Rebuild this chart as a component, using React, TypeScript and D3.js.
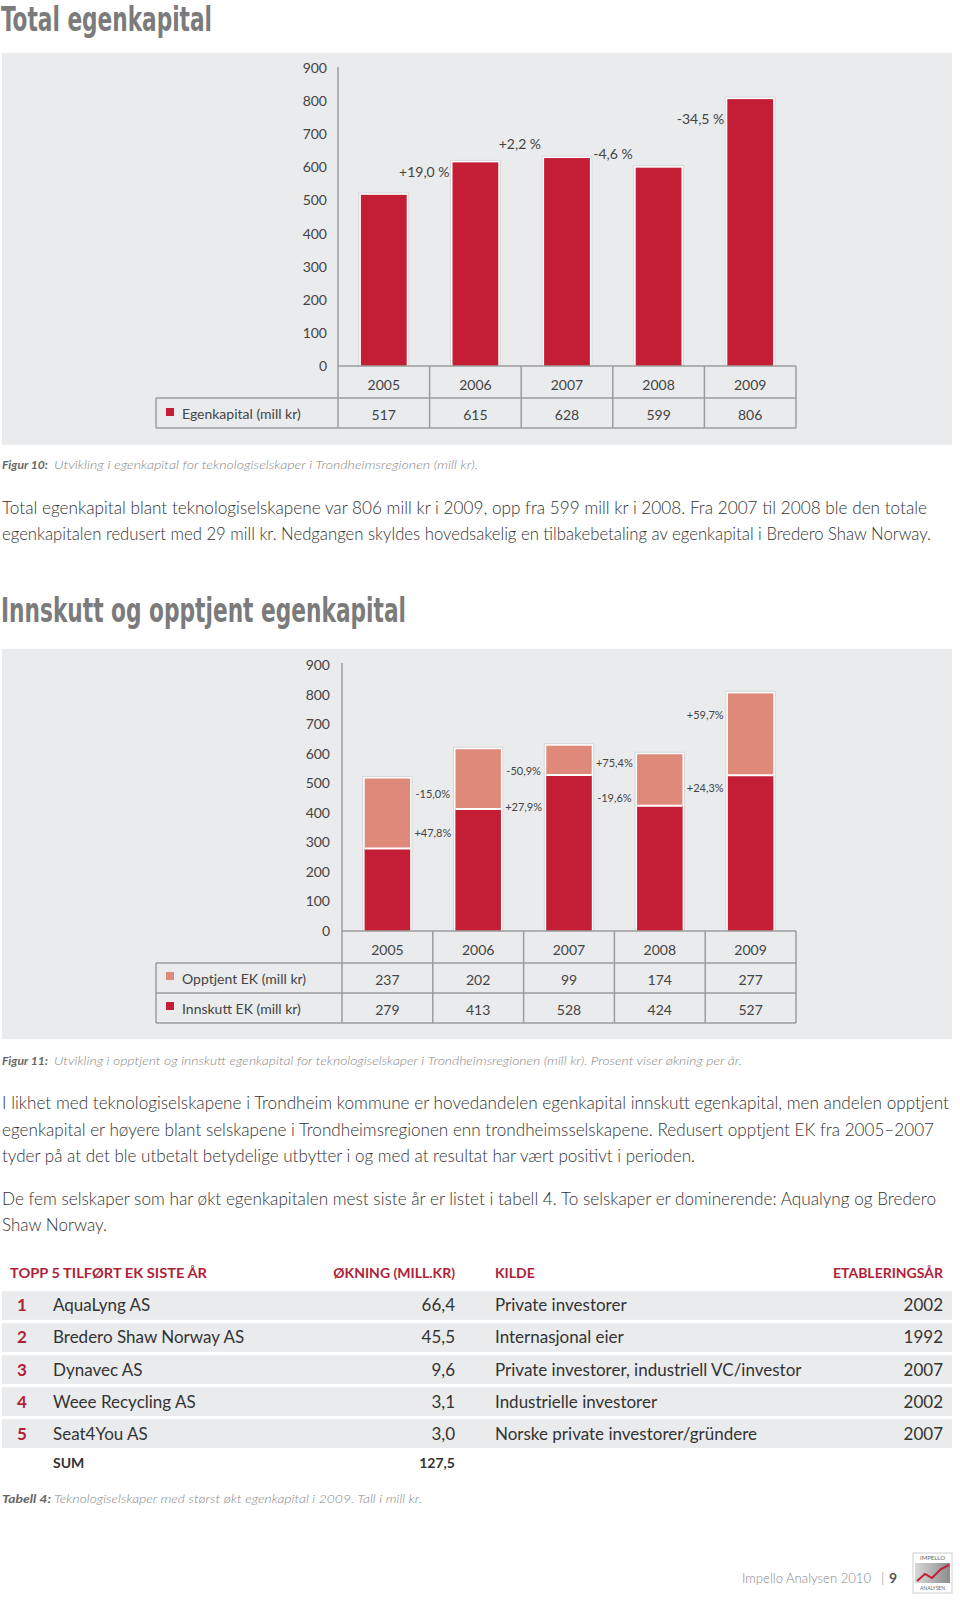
import React from "react";
import * as d3 from "d3";

// ---------- DATA ----------
const years = ["2005", "2006", "2007", "2008", "2009"];
const egenkapital = [517, 615, 628, 599, 806];
const egenkapitalChange = ["+19,0 %", "+2,2 %", "-4,6 %", "-34,5 %"];
const egenkapitalChangeAt = [586, 670, 640, 746];

const opptjent = [237, 202, 99, 174, 277];
const innskutt = [279, 413, 528, 424, 527];
const opptjentChange = ["-15,0%", "-50,9%", "+75,4%", "+59,7%"];
const opptjentChangeAt = [464, 542, 569, 732];
const innskuttChange = ["+47,8%", "+27,9%", "-19,6%", "+24,3%"];
const innskuttChangeAt = [332, 420, 451, 485];

const yTicks = [0, 100, 200, 300, 400, 500, 600, 700, 800, 900];

const topRanks = ["1", "2", "3", "4", "5"];
const topCompanies = ["AquaLyng AS", "Bredero Shaw Norway AS", "Dynavec AS", "Weee Recycling AS", "Seat4You AS"];
const topIncrease = ["66,4", "45,5", "9,6", "3,1", "3,0"];
const topSource = [
  "Private investorer",
  "Internasjonal eier",
  "Private investorer, industriell VC/investor",
  "Industrielle investorer",
  "Norske private investorer/gründere",
];
const topYear = ["2002", "1992", "2007", "2002", "2007"];
const topHeaders = ["TOPP 5 TILFØRT EK SISTE ÅR", "ØKNING (MILL.KR)", "KILDE", "ETABLERINGSÅR"];
const sumLabel = "SUM";
const sumValue = "127,5";

// ---------- STYLE ----------
const RED = "#c41e36";
const SALMON = "#df897b";
const PANEL = "#eaebed";
const GRID = "#9c9c9c";
const TXT = "#444";
const FONT = "Lato, 'Open Sans', sans-serif";
const HEAD = "'Liberation Sans Narrow', 'DejaVu Sans Condensed', 'Roboto Condensed', sans-serif";

const Para = ({ x, y, w, children, size = 17, fill = "#333", italic = false, bold = false }: any) => (
  <text
    x={x}
    y={y}
    fontFamily={FONT}
    fontSize={size}
    fill={fill}
    fontStyle={italic ? "italic" : "normal"}
    fontWeight={bold ? 700 : 300}
    textLength={w}
    lengthAdjust="spacingAndGlyphs"
  >
    {children}
  </text>
);

function Bar({ x, y, w, h, fill }: any) {
  return (
    <g>
      <rect x={x - 2.5} y={y - 2.5} width={w + 5} height={h + 2.5} fill="#c9cacc" opacity={0.6} />
      <rect x={x - 1.5} y={y - 1.5} width={w + 3} height={h + 1.5} fill="#fff" />
      <rect x={x} y={y} width={w} height={h} fill={fill} />
    </g>
  );
}

function Chart1() {
  const x = d3.scaleBand<string>().domain(years).range([338, 796]).paddingInner(0.5).paddingOuter(0.25);
  const y = d3.scaleLinear().domain([0, 900]).range([366, 68]);
  const step = x.step();
  const r0 = 338;
  const rowTop = y(0);
  const row1 = rowTop + 32;
  const row2 = row1 + 30;
  return (
    <g>
      <rect x={2} y={53} width={950} height={392} fill={PANEL} />
      {yTicks.map((t) => (
        <text key={t} x={327} y={y(t) + 5} textAnchor="end" fontFamily={FONT} fontSize={14} fill={TXT}>
          {t}
        </text>
      ))}
      {years.map((yr, i) => (
        <Bar key={yr} x={x(yr)!} y={y(egenkapital[i])} w={x.bandwidth()} h={y(0) - y(egenkapital[i])} fill={RED} />
      ))}
      {egenkapitalChange.map((c, i) => (
        <text
          key={c}
          x={x(years[i + 1])! - 3}
          y={y(egenkapitalChangeAt[i]) + 5}
          textAnchor="end"
          fontFamily={FONT}
          fontSize={14}
          fill={TXT}
        >
          {c}
        </text>
      ))}
      <line x1={r0} x2={r0} y1={y(900) - 1} y2={row2} stroke={GRID} strokeWidth={1.5} />
      <line x1={r0} x2={796} y1={rowTop} y2={rowTop} stroke={GRID} strokeWidth={1.5} />
      <line x1={156} x2={796} y1={row1} y2={row1} stroke={GRID} strokeWidth={1.5} />
      <line x1={156} x2={796} y1={row2} y2={row2} stroke={GRID} strokeWidth={1.5} />
      <line x1={156} x2={156} y1={row1} y2={row2} stroke={GRID} strokeWidth={1.5} />
      {years.map((yr, i) => (
        <line key={"v" + yr} x1={r0 + (i + 1) * step} x2={r0 + (i + 1) * step} y1={rowTop} y2={row2} stroke={GRID} strokeWidth={1.5} />
      ))}
      {years.map((yr, i) => (
        <g key={"t" + yr}>
          <text x={r0 + (i + 0.5) * step} y={(rowTop + row1) / 2 + 8} textAnchor="middle" fontFamily={FONT} fontSize={14} fill={TXT}>
            {yr}
          </text>
          <text x={r0 + (i + 0.5) * step} y={(row1 + row2) / 2 + 7} textAnchor="middle" fontFamily={FONT} fontSize={14} fill={TXT}>
            {egenkapital[i]}
          </text>
        </g>
      ))}
      <rect x={166} y={(row1 + row2) / 2 - 5} width={8} height={8} fill={RED} />
      <text x={182} y={(row1 + row2) / 2 + 6} fontFamily={FONT} fontSize={14} fill={TXT}>
        Egenkapital (mill kr)
      </text>
    </g>
  );
}

function Chart2() {
  const x = d3.scaleBand<string>().domain(years).range([342, 796]).paddingInner(0.5).paddingOuter(0.25);
  const y = d3.scaleLinear().domain([0, 900]).range([931, 665]);
  const step = x.step();
  const r0 = 342;
  const rowTop = y(0);
  const row1 = rowTop + 32;
  const row2 = row1 + 30;
  const row3 = row2 + 30;
  const stacked = years.map((yr, i) => ({ yr, a: innskutt[i], b: opptjent[i] }));
  return (
    <g>
      <rect x={2} y={649} width={950} height={390} fill={PANEL} />
      {yTicks.map((t) => (
        <text key={t} x={330} y={y(t) + 5} textAnchor="end" fontFamily={FONT} fontSize={14} fill={TXT}>
          {t}
        </text>
      ))}
      {stacked.map((d) => {
        const bx = x(d.yr)!;
        const w = x.bandwidth();
        const top = y(d.a + d.b);
        const mid = y(d.a);
        return (
          <g key={d.yr}>
            <Bar x={bx} y={top} w={w} h={y(0) - top} fill={SALMON} />
            <rect x={bx} y={mid} width={w} height={y(0) - mid} fill={RED} />
            <line x1={bx} x2={bx + w} y1={mid} y2={mid} stroke="#fff" strokeWidth={2} />
          </g>
        );
      })}
      {opptjentChange.map((c, i) => (
        <text key={c} x={r0 + (i + 1) * step} y={y(opptjentChangeAt[i]) + 4} textAnchor="middle" fontFamily={FONT} fontSize={11} fill={TXT}>
          {c}
        </text>
      ))}
      {innskuttChange.map((c, i) => (
        <text key={c} x={r0 + (i + 1) * step} y={y(innskuttChangeAt[i]) + 4} textAnchor="middle" fontFamily={FONT} fontSize={11} fill={TXT}>
          {c}
        </text>
      ))}
      <line x1={r0} x2={r0} y1={y(900) - 2} y2={row3} stroke={GRID} strokeWidth={1.5} />
      <line x1={r0} x2={796} y1={rowTop} y2={rowTop} stroke={GRID} strokeWidth={1.5} />
      {[row1, row2, row3].map((r) => (
        <line key={r} x1={156} x2={796} y1={r} y2={r} stroke={GRID} strokeWidth={1.5} />
      ))}
      <line x1={156} x2={156} y1={row1} y2={row3} stroke={GRID} strokeWidth={1.5} />
      {years.map((yr, i) => (
        <line key={"v" + yr} x1={r0 + (i + 1) * step} x2={r0 + (i + 1) * step} y1={rowTop} y2={row3} stroke={GRID} strokeWidth={1.5} />
      ))}
      {years.map((yr, i) => (
        <g key={"t" + yr}>
          <text x={r0 + (i + 0.5) * step} y={(rowTop + row1) / 2 + 8} textAnchor="middle" fontFamily={FONT} fontSize={14} fill={TXT}>
            {yr}
          </text>
          <text x={r0 + (i + 0.5) * step} y={(row1 + row2) / 2 + 7} textAnchor="middle" fontFamily={FONT} fontSize={14} fill={TXT}>
            {opptjent[i]}
          </text>
          <text x={r0 + (i + 0.5) * step} y={(row2 + row3) / 2 + 7} textAnchor="middle" fontFamily={FONT} fontSize={14} fill={TXT}>
            {innskutt[i]}
          </text>
        </g>
      ))}
      <rect x={166} y={(row1 + row2) / 2 - 6} width={8} height={8} fill={SALMON} />
      <text x={182} y={(row1 + row2) / 2 + 6} fontFamily={FONT} fontSize={14} fill={TXT}>
        Opptjent EK (mill kr)
      </text>
      <rect x={166} y={(row2 + row3) / 2 - 6} width={8} height={8} fill={RED} />
      <text x={182} y={(row2 + row3) / 2 + 6} fontFamily={FONT} fontSize={14} fill={TXT}>
        Innskutt EK (mill kr)
      </text>
    </g>
  );
}

function TopTable() {
  const rows = d3.scaleBand<string>().domain(topRanks).range([1291, 1448]).paddingInner(0.1);
  const hy = 1278;
  return (
    <g>
      <g fontFamily={FONT} fontWeight={700} fontSize={14} fill="#b01f38">
        <text x={10} y={hy} textLength={197} lengthAdjust="spacingAndGlyphs">{topHeaders[0]}</text>
        <text x={455} y={hy} textAnchor="end">{topHeaders[1]}</text>
        <text x={495} y={hy}>{topHeaders[2]}</text>
        <text x={943} y={hy} textAnchor="end">{topHeaders[3]}</text>
      </g>
      {topRanks.map((r, i) => {
        const ry = rows(r)!;
        const cy = ry + rows.bandwidth() / 2 + 6;
        return (
          <g key={r}>
            <rect x={2} y={ry} width={950} height={rows.bandwidth()} fill={PANEL} />
            <text x={22} y={cy} textAnchor="middle" fontFamily={FONT} fontWeight={700} fontSize={17} fill="#b01f38">
              {r}
            </text>
            <text x={53} y={cy} fontFamily={FONT} fontSize={17} fill="#333">
              {topCompanies[i]}
            </text>
            <text x={455} y={cy} textAnchor="end" fontFamily={FONT} fontSize={17} fill="#333">
              {topIncrease[i]}
            </text>
            <text x={495} y={cy} fontFamily={FONT} fontSize={17} fill="#333">
              {topSource[i]}
            </text>
            <text x={943} y={cy} textAnchor="end" fontFamily={FONT} fontSize={17} fill="#333">
              {topYear[i]}
            </text>
          </g>
        );
      })}
      <text x={53} y={1468} fontFamily={FONT} fontWeight={700} fontSize={14} fill="#333">
        {sumLabel}
      </text>
      <text x={455} y={1468} textAnchor="end" fontFamily={FONT} fontWeight={700} fontSize={14} fill="#333">
        {sumValue}
      </text>
    </g>
  );
}

function Logo() {
  const pts: [number, number][] = [
    [917, 1581],
    [925, 1574],
    [932, 1578],
    [941, 1569],
    [949, 1565],
  ];
  const line = d3.line();
  return (
    <g>
      <defs>
        <linearGradient id="lg" x1="0" x2="1" y1="0" y2="0">
          <stop offset="0" stopColor="#d8d8d8" />
          <stop offset="1" stopColor="#8c8c8c" />
        </linearGradient>
      </defs>
      <rect x={913} y={1553} width={39} height={40} fill="#fff" stroke="#d0d0d0" />
      <rect x={915} y={1563} width={35} height={20} fill="url(#lg)" />
      <text x={932.5} y={1560} textAnchor="middle" fontFamily={FONT} fontSize={6} fill="#666">
        IMPELLO
      </text>
      <path d={line(pts)!} fill="none" stroke="#c41e36" strokeWidth={2} />
      <text x={932.5} y={1590} textAnchor="middle" fontFamily={FONT} fontSize={5} fill="#666">
        ANALYSEN
      </text>
    </g>
  );
}

export default function App() {
  return (
    <svg
      width={960}
      height={1602}
      viewBox="0 0 960 1602"
      style={{ position: "absolute", left: 0, top: 0, background: "#fff" }}
    >
      <rect x={0} y={0} width={960} height={1602} fill="#fff" />
      <text x={1} y={31} fontFamily={HEAD} fontWeight={700} fontSize={33} fill="#7b7b7b" textLength={211} lengthAdjust="spacingAndGlyphs">
        Total egenkapital
      </text>
      <Chart1 />
      <Para x={2} y={469} w={46} size={12} italic bold fill="#666">Figur 10:</Para>
      <Para x={54} y={469} w={424} size={12} italic fill="#888">
        Utvikling i egenkapital for teknologiselskaper i Trondheimsregionen (mill kr).
      </Para>
      <Para x={2} y={514} w={925}>
        Total egenkapital blant teknologiselskapene var 806 mill kr i 2009, opp fra 599 mill kr i 2008. Fra 2007 til 2008 ble den totale
      </Para>
      <Para x={2} y={540} w={929}>
        egenkapitalen redusert med 29 mill kr. Nedgangen skyldes hovedsakelig en tilbakebetaling av egenkapital i Bredero Shaw Norway.
      </Para>
      <text x={1} y={622} fontFamily={HEAD} fontWeight={700} fontSize={33} fill="#7b7b7b" textLength={405} lengthAdjust="spacingAndGlyphs">
        Innskutt og opptjent egenkapital
      </text>
      <Chart2 />
      <Para x={2} y={1065} w={46} size={12} italic bold fill="#666">Figur 11:</Para>
      <Para x={54} y={1065} w={688} size={12} italic fill="#888">
        Utvikling i opptjent og innskutt egenkapital for teknologiselskaper i Trondheimsregionen (mill kr). Prosent viser økning per år.
      </Para>
      <Para x={2} y={1109} w={947}>
        I likhet med teknologiselskapene i Trondheim kommune er hovedandelen egenkapital innskutt egenkapital, men andelen opptjent
      </Para>
      <Para x={2} y={1136} w={932}>
        egenkapital er høyere blant selskapene i Trondheimsregionen enn trondheimsselskapene. Redusert opptjent EK fra 2005–2007
      </Para>
      <Para x={2} y={1162} w={693}>
        tyder på at det ble utbetalt betydelige utbytter i og med at resultat har vært positivt i perioden.
      </Para>
      <Para x={2} y={1205} w={934}>
        De fem selskaper som har økt egenkapitalen mest siste år er listet i tabell 4. To selskaper er dominerende: Aqualyng og Bredero
      </Para>
      <Para x={2} y={1231} w={105}>
        Shaw Norway.
      </Para>
      <TopTable />
      <Para x={2} y={1503} w={49} size={12} italic bold fill="#666">Tabell 4:</Para>
      <Para x={54} y={1503} w={368} size={12} italic fill="#888">
        Teknologiselskaper med størst økt egenkapital i 2009. Tall i mill kr.
      </Para>
      <text x={742} y={1583} fontFamily={FONT} fontWeight={300} fontSize={14} fill="#888" textLength={129} lengthAdjust="spacingAndGlyphs">
        Impello Analysen 2010
      </text>
      <text x={881} y={1583} fontFamily={FONT} fontWeight={300} fontSize={14} fill="#888">|</text>
      <text x={889} y={1583} fontFamily={FONT} fontWeight={700} fontSize={14} fill="#555">9</text>
      <Logo />
    </svg>
  );
}
